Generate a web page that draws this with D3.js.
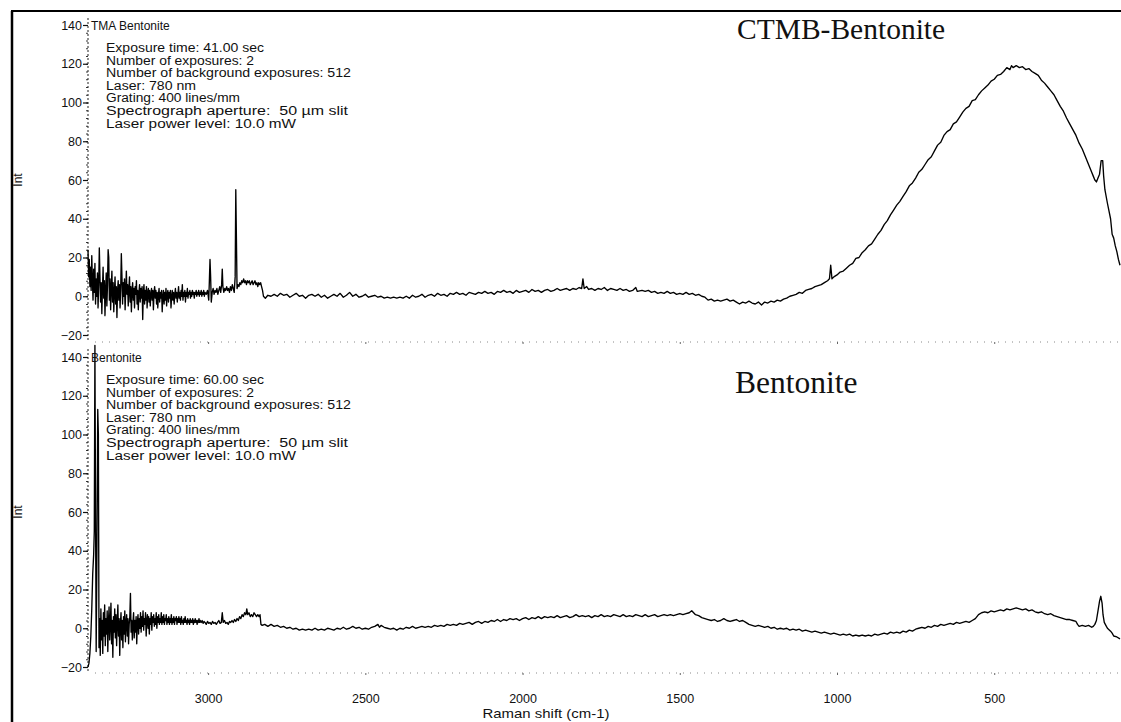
<!DOCTYPE html>
<html>
<head>
<meta charset="utf-8">
<script src="https://cdn.jsdelivr.net/npm/d3@7"></script>
<style>
  html, body { margin: 0; padding: 0; background: #fff; }
  svg { display: block; }
  text { fill: #111; }
</style>
</head>
<body>
<svg id="chart" width="1121" height="722"></svg>
<script>
// ---- data: Raman shift (cm-1) vs intensity ----
const yTicks = [-20, 0, 20, 40, 60, 80, 100, 120, 140];
const xTicks = [3000, 2500, 2000, 1500, 1000, 500];

// CTMB-Bentonite, noisy high-shift end
const ctmbNoise = [
[3382,24],[3380,10],[3378,19],[3376,5],[3374,15],[3372,3],[3370,21],[3368,8],[3366,-2],[3364,14],[3362,2],[3360,17],[3358,-4],[3356,9],[3354,0],[3352,12],[3350,-6],[3348,6],[3346,25],[3344,10],[3342,-3],[3340,7],[3338,-9],[3336,4],[3334,15],[3332,-1],[3330,8],[3328,-10],[3326,3],[3324,12],[3322,-5],[3320,6],[3318,24],[3316,20],[3314,-2],[3312,9],[3310,-7],[3308,4],[3306,13],[3304,-3],[3302,7],[3300,-8],[3298,2],[3296,10],[3294,-4],[3292,5],[3290,-11],[3288,3],[3286,8],[3284,-2],[3282,6],[3280,-6],[3278,4],[3276,22],[3274,10],[3272,-4],[3270,7],[3268,0],[3266,9],[3264,-7],[3262,3],[3260,13],[3258,1],[3256,6],[3254,-5],[3252,4],[3250,10],[3248,-3],[3246,5],[3244,-8],[3242,3],[3240,7],[3238,-2],[3236,4],[3234,-6],[3232,5],[3230,1],[3228,8],[3226,-4],[3224,3],[3222,-7],[3220,2],[3218,6],[3216,-3],[3214,4],[3212,-1],[3210,5],[3208,-12],[3206,2],[3204,6],[3202,-4],[3200,3],[3198,-2],[3196,5],[3194,-6],[3192,2],[3190,4],[3188,-3],[3186,3],[3184,-5],[3182,1],[3180,4],[3178,-2],[3176,3],[3174,-7],[3172,2],[3170,5],[3168,-1],[3166,3],[3164,-4],[3162,2],[3160,-6],[3158,1],[3156,4],[3154,-3],[3152,2],[3150,-1],[3148,3],[3146,-8],[3144,0],[3142,3],[3140,-4],[3138,2],[3136,-2],[3134,4],[3132,-5],[3130,1],[3128,3],[3126,-3],[3124,2],[3122,-1],[3120,3],[3118,-6],[3116,0],[3114,3],[3112,-2],[3110,2],[3108,-4],[3106,1],[3104,4],[3102,-1],[3100,2],[3098,-3],[3096,1],[3094,5],[3092,-1],[3090,2],[3088,-2],[3086,3],[3084,0],[3082,6],[3080,-2],[3078,2],[3076,0],[3074,3],[3072,-3],[3070,2],[3068,0],[3066,4],[3064,-1],[3062,2],[3060,1],[3058,3],[3056,-1],[3054,2],[3052,0],[3050,3],[3048,1],[3046,2],[3044,-1],[3042,2],[3040,1],[3038,3],[3036,0],[3034,2],[3032,1],[3030,3],[3028,0],[3026,2],[3024,1],[3022,3],[3020,0],[3018,2],[3016,1],[3014,3],[3012,0],[3010,2],[3006,1],[3002,3],[2998,-2],[2996,8],[2994,19],[2992,10],[2990,-3],[2987,2],[2984,4],[2981,1],[2978,3],[2975,2],[2972,4],[2969,1],[2966,3],[2963,5],[2960,2],[2957,6],[2955,14],[2953,5],[2950,2],[2947,4],[2944,3],[2941,5],[2938,3],[2935,4],[2932,2],[2929,5],[2926,3],[2923,6],[2920,4],[2917,2],[2914,10],[2912,55],[2910,30],[2908,4],[2905,6],[2902,5],[2899,7],[2896,6],[2893,8],[2890,7],[2887,9],[2884,7],[2881,8],[2878,6],[2875,8],[2872,7],[2869,8],[2866,6],[2863,7],[2860,8],[2857,6],[2854,7],[2851,8],[2848,6],[2845,7],[2842,5],[2839,7],[2836,6],[2833,7],[2830,5],[2827,3],[2824,0]
];

// CTMB-Bentonite, baseline and broad fluorescence band
const ctmbBand = [
[2818,-1],[2810,0.5],[2800,0],[2790,1],[2780,0],[2770,1.5],[2760,0.5],[2750,1],[2740,-0.5],[2730,0.5],[2720,1.5],[2710,0],[2700,0.5],[2690,-1],[2680,0.5],[2670,1],[2660,0],[2650,1],[2640,-0.5],[2630,0.5],[2620,-1],[2610,0],[2600,1],[2590,0],[2580,1.5],[2570,-0.5],[2560,0.5],[2550,2],[2540,0],[2530,1],[2520,-0.5],[2510,0],[2500,1],[2490,-0.5],[2480,0],[2470,0.5],[2460,-0.5],[2450,0],[2440,-1],[2430,-0.5],[2420,-1],[2410,-0.5],[2400,-1],[2390,-0.5],[2380,-1],[2370,0],[2360,-1],[2350,0.5],[2340,-0.5],[2330,0],[2320,1],[2310,-0.5],[2300,0.5],[2290,1],[2280,0],[2270,1.5],[2260,0.5],[2250,1],[2240,0],[2230,1.5],[2220,1],[2210,2],[2200,1],[2190,1.5],[2180,0.5],[2170,2],[2160,1.5],[2150,1],[2140,2],[2130,1.5],[2120,2.5],[2110,1.5],[2100,2],[2090,1],[2080,2.5],[2070,2],[2060,3],[2050,2],[2040,2.5],[2030,1.5],[2020,3],[2010,2],[2000,2.5],[1990,3],[1980,2],[1970,3.5],[1960,2.5],[1950,3],[1940,2],[1930,3],[1920,3.5],[1910,2.5],[1900,3],[1890,4],[1880,3],[1870,3.5],[1860,4],[1850,3],[1840,4],[1830,3.5],[1820,4.5],[1812,4],[1808,9],[1804,4],[1796,5],[1790,3.5],[1780,4],[1770,3],[1760,4],[1750,3.5],[1740,4.5],[1730,3],[1720,4],[1710,3.5],[1700,3],[1690,4],[1680,3],[1670,3.5],[1660,2.5],[1650,3],[1640,4.5],[1635,2.5],[1620,3],[1610,2.5],[1600,3],[1590,2],[1580,2.5],[1570,1.5],[1560,2],[1550,1.5],[1540,2.5],[1530,1.5],[1520,2],[1510,1],[1500,1.5],[1490,1],[1480,2],[1470,1],[1460,1.5],[1450,0.5],[1440,1],[1430,0],[1420,-0.5],[1410,-2],[1400,-1.5],[1390,-2.5],[1380,-2],[1370,-2.5],[1360,-2],[1350,-1.5],[1340,-2.5],[1330,-2],[1320,-3],[1310,-4],[1300,-3],[1290,-3.5],[1280,-2.5],[1270,-3.5],[1260,-4],[1250,-3],[1240,-4.5],[1230,-3],[1220,-3.5],[1210,-2.5],[1200,-3],[1190,-2],[1180,-2.5],[1170,-1.5],[1160,-1],[1150,0],[1140,0.5],[1130,1],[1120,2],[1110,1.5],[1100,3],[1090,3.5],[1080,4],[1070,5],[1060,5.5],[1050,6],[1040,7],[1030,8],[1024,9],[1020,16],[1016,9],[1010,10],[1000,11],[990,12.5],[980,13],[970,14.5],[960,16],[950,17],[940,19.5],[930,20],[920,22.5],[910,24],[900,26],[890,27],[880,29.5],[870,32],[860,34],[850,37],[840,39],[830,42],[820,44.5],[810,47],[800,49],[790,51.5],[780,54],[770,57],[760,58.5],[750,61],[740,64],[730,65.5],[720,68],[710,70.5],[700,72],[690,75],[680,78],[670,79.5],[660,83],[650,85],[640,86],[630,89],[620,90],[610,92.5],[600,95],[590,97],[580,98],[570,101],[560,101.5],[550,104],[540,106],[530,107.5],[520,109],[510,111],[500,112],[490,114],[480,114.5],[470,116],[460,118],[450,117],[445,119],[440,118],[430,119],[420,118],[410,118.5],[400,117],[390,117.5],[380,116],[370,115],[360,114],[350,111.5],[340,110],[330,108],[320,106],[310,104],[300,101],[290,98],[280,95.5],[270,92],[260,89],[250,86],[240,83],[230,79],[220,76],[210,72],[200,68],[190,64],[185,62],[180,60],[175,59],[170,61],[165,63],[160,70],[155,70],[152,62],[148,55],[140,48],[130,40],[125,32],[120,30],[115,26],[110,23],[105,19],[100,16]
];

// Bentonite, noisy high-shift end
const bentNoise = [
[3382,-20],[3379,-18],[3376,-13],[3373,-4],[3370,10],[3367,28],[3364,38],[3362,50],[3360,146],[3358,60],[3356,-12],[3354,30],[3351,113],[3349,100],[3347,-10],[3345,5],[3343,-14],[3341,10],[3339,-6],[3337,4],[3335,-13],[3333,8],[3331,-4],[3329,12],[3327,-9],[3325,5],[3323,-3],[3321,9],[3319,-12],[3317,3],[3315,11],[3313,-6],[3311,2],[3309,13],[3307,-8],[3305,4],[3303,-15],[3301,6],[3299,-2],[3297,10],[3295,-5],[3293,7],[3291,-9],[3289,3],[3287,12],[3285,-4],[3283,5],[3281,-14],[3279,2],[3277,8],[3275,-6],[3273,4],[3271,-10],[3269,6],[3267,-3],[3265,9],[3263,-7],[3261,3],[3259,7],[3257,-4],[3255,5],[3253,-8],[3251,2],[3249,6],[3247,18],[3245,-2],[3243,4],[3241,-6],[3239,3],[3237,8],[3235,-5],[3233,4],[3231,-2],[3229,6],[3227,-8],[3225,3],[3223,7],[3221,-3],[3219,5],[3217,0],[3215,8],[3213,-2],[3211,6],[3209,1],[3207,9],[3205,-1],[3203,5],[3201,2],[3199,8],[3197,-4],[3195,4],[3193,7],[3191,0],[3189,6],[3187,-3],[3185,5],[3183,2],[3181,8],[3179,-1],[3177,6],[3175,3],[3173,7],[3171,1],[3169,5],[3167,2],[3165,8],[3163,0],[3161,6],[3159,3],[3157,7],[3155,2],[3153,5],[3151,3],[3149,8],[3147,2],[3145,6],[3143,3],[3141,7],[3139,2],[3137,5],[3135,4],[3133,7],[3131,2],[3129,5],[3127,3],[3125,6],[3123,2],[3121,5],[3119,3],[3117,7],[3115,2],[3113,5],[3111,3],[3109,6],[3107,2],[3105,5],[3103,4],[3101,6],[3099,2],[3097,5],[3095,3],[3093,6],[3091,3],[3089,5],[3087,2],[3085,6],[3083,3],[3081,4],[3079,2],[3077,5],[3075,3],[3073,6],[3071,3],[3069,4],[3067,2],[3065,5],[3063,3],[3061,4],[3059,2],[3057,5],[3055,3],[3053,4],[3051,3],[3049,5],[3047,2],[3045,4],[3043,3],[3041,5],[3039,3],[3037,4],[3035,2],[3033,4],[3031,3],[3029,5],[3027,3],[3025,4],[3022,3],[3019,4],[3016,2.5],[3013,3.5],[3010,3],[3006,2],[3002,3.5],[2998,2.5],[2994,3],[2990,2],[2986,3.5],[2982,2.5],[2978,3],[2974,2],[2970,3],[2966,4],[2962,2.5],[2958,3],[2955,8],[2952,3],[2948,4],[2944,2.5],[2940,3],[2936,2],[2932,3.5],[2928,3],[2924,4],[2920,3],[2916,4.5],[2912,3.5],[2908,5],[2904,4],[2900,6],[2896,5],[2892,7],[2888,6],[2884,8],[2880,7],[2877,10],[2874,7],[2870,8],[2866,6],[2862,7],[2858,6],[2854,8],[2850,7],[2846,6],[2842,7],[2838,6],[2835,7],[2832,2],[2828,1.5]
];

// Bentonite, baseline and bands
const bentBand = [
[2820,2],[2810,1],[2800,2],[2790,1],[2780,1.5],[2770,0.5],[2760,1],[2750,0],[2740,0.5],[2730,-0.5],[2720,0],[2710,-1],[2700,-0.5],[2690,-1],[2680,-0.5],[2670,-1],[2660,0],[2650,-1],[2640,-0.5],[2630,-1],[2620,0],[2610,-0.5],[2600,-1],[2590,0],[2580,-0.5],[2570,0.5],[2560,-0.5],[2550,0],[2540,1],[2530,0],[2520,0.5],[2510,-0.5],[2500,0],[2490,-0.5],[2480,0.5],[2470,1],[2460,2],[2455,0.5],[2450,1.5],[2440,0.5],[2430,0],[2420,-0.5],[2410,0],[2400,-1],[2390,0],[2380,-0.5],[2370,0.5],[2360,0],[2350,1],[2340,0],[2330,0.5],[2320,1],[2310,0.5],[2300,1],[2290,0.5],[2280,1.5],[2270,1],[2260,1.5],[2250,1],[2240,2],[2230,1.5],[2220,2],[2210,1.5],[2200,2.5],[2190,2],[2180,2.5],[2170,3],[2160,2],[2150,3],[2140,3.5],[2130,2.5],[2120,3.5],[2110,3],[2100,4],[2090,3.5],[2080,4.5],[2070,3.5],[2060,4.5],[2050,4],[2040,5],[2030,4.5],[2020,5],[2010,4],[2000,5],[1990,5.5],[1980,4.5],[1970,5.5],[1960,5],[1950,6],[1940,5],[1930,6],[1920,5.5],[1910,6],[1900,5.5],[1890,6.5],[1880,5.5],[1870,6],[1860,6.5],[1850,5.5],[1840,6],[1830,7],[1820,6],[1810,6.5],[1800,6],[1790,6.5],[1780,5.5],[1770,6.5],[1760,6],[1750,7],[1740,6],[1730,6.5],[1720,6],[1710,7],[1700,6.5],[1690,6],[1680,7],[1670,6],[1660,6.5],[1650,6],[1640,7],[1630,6.5],[1620,6],[1610,7],[1600,6],[1590,6.5],[1580,7],[1570,6],[1560,6.5],[1550,7],[1540,6.5],[1530,7],[1520,6.5],[1510,7],[1500,7.5],[1490,7],[1480,7.5],[1470,8],[1462,9],[1456,8],[1450,7],[1440,6.5],[1430,5.5],[1420,5],[1410,4.5],[1400,4],[1390,4.5],[1380,3.5],[1370,4],[1360,5],[1350,4],[1340,3.5],[1330,4],[1320,4.5],[1310,3.5],[1300,4],[1290,3],[1280,2],[1270,1.5],[1260,1],[1250,1.5],[1240,1],[1230,0.5],[1220,1],[1210,0],[1200,0.5],[1190,-0.5],[1180,0],[1170,-0.5],[1160,0],[1150,-1],[1140,-0.5],[1130,-1],[1120,-0.5],[1110,-1.5],[1100,-1],[1090,-1.5],[1080,-2],[1070,-1.5],[1060,-2],[1050,-2.5],[1040,-2],[1030,-2.5],[1020,-3],[1010,-2.5],[1000,-3],[990,-3.5],[980,-3],[970,-3.5],[960,-3],[950,-4],[940,-3.5],[930,-4],[920,-3.5],[910,-4],[900,-3.5],[890,-4],[880,-3],[870,-3.5],[860,-3],[850,-2.5],[840,-3],[830,-2],[820,-2.5],[810,-2],[800,-2.5],[790,-1.5],[780,-2],[770,-1],[760,-1.5],[750,-0.5],[740,0],[730,0.5],[720,0],[710,1],[700,0.5],[690,1.5],[680,1],[670,2],[660,1.5],[650,2],[640,2.5],[630,2],[620,3],[610,2.5],[600,3],[590,3.5],[580,3],[570,4],[560,5],[550,7],[540,8],[530,8.5],[520,8],[510,9],[500,8.5],[490,9],[480,9.5],[470,9],[460,10],[450,9.5],[440,10],[430,10.5],[420,10],[410,9.5],[400,10],[390,9],[380,9.5],[370,8.5],[360,8],[350,8.5],[340,7.5],[330,7],[320,7.5],[310,6.5],[300,6],[290,5.5],[280,5],[270,4.5],[260,4.5],[250,4],[240,3.5],[235,2],[230,1],[220,1.5],[210,1],[200,1.5],[190,0.5],[185,1],[180,2],[175,4],[170,9],[165,14],[161,16.5],[157,13],[154,7],[150,3],[145,1.5],[140,0],[130,-1.5],[125,-2.5],[120,-4],[110,-4.5],[100,-5.5]
];

const ctmbInfo = [
  "Exposure time: 41.00 sec",
  "Number of exposures: 2",
  "Number of background exposures: 512",
  "Laser: 780 nm",
  "Grating: 400 lines/mm",
  "Spectrograph aperture:  50 \u00b5m slit",
  "Laser power level: 10.0 mW"
];
const bentInfo = [
  "Exposure time: 60.00 sec",
  "Number of exposures: 2",
  "Number of background exposures: 512",
  "Laser: 780 nm",
  "Grating: 400 lines/mm",
  "Spectrograph aperture:  50 \u00b5m slit",
  "Laser power level: 10.0 mW"
];

// ---- layout ----
const svg = d3.select("#chart");
const SANS = "'Liberation Sans', Arial, sans-serif";
const SERIF = "'Liberation Serif', 'Times New Roman', serif";

// rendered line lengths of the parameter block (px), one per line
const infoLineWidths = [158, 148, 245, 90, 134, 242, 190];

const x = d3.scaleLinear().domain([3382, 100]).range([88, 1120]);

const panels = [
  { data: ctmbNoise.concat(ctmbBand), top: 25, bottom: 335, axisY: 342, axisTop: 18,
    title: "TMA Bentonite", info: ctmbInfo, label: "CTMB-Bentonite", labelX: 737, labelY: 39,
    labelSize: 29.5, xLabels: false },
  { data: bentNoise.concat(bentBand), top: 357, bottom: 667, axisY: 673, axisTop: 349,
    title: "Bentonite", info: bentInfo, label: "Bentonite", labelX: 735, labelY: 393,
    labelSize: 31.5, xLabels: true }
];

// outer frame (left and top edges)
svg.append("line").attr("x1", 12).attr("y1", 11).attr("x2", 12).attr("y2", 722)
  .attr("stroke", "#000").attr("stroke-width", 2.5);
svg.append("line").attr("x1", 11).attr("y1", 11).attr("x2", 1121).attr("y2", 11)
  .attr("stroke", "#000").attr("stroke-width", 2);

panels.forEach(p => {
  const y = d3.scaleLinear().domain([-20, 140]).range([p.bottom, p.top]);
  const g = svg.append("g");

  // x axis: faint dotted baseline
  const xAxis = d3.axisBottom(x).tickValues(xTicks).tickSize(2).tickPadding(19)
    .tickFormat(p.xLabels ? d3.format("d") : () => "");
  const gx = g.append("g").attr("transform", `translate(0,${p.axisY})`).call(xAxis);
  gx.select(".domain").attr("stroke", "#888").attr("stroke-width", 1)
    .attr("stroke-dasharray", "1,6").attr("d", `M95,0H1120`);
  gx.selectAll(".tick line").attr("stroke", "#666");
  gx.selectAll(".tick text").attr("font-family", SANS).attr("font-size", 12.5).attr("fill", "#111");

  // y axis: minor ticks
  const minor = d3.range(-20, 141, 4);
  const gm = g.append("g").attr("transform", "translate(88,0)")
    .call(d3.axisLeft(y).tickValues(minor).tickSize(2).tickFormat(() => ""));
  gm.select(".domain").remove();
  gm.selectAll(".tick line").attr("stroke", "#333");

  // y axis: major ticks and labels
  const gy = g.append("g").attr("transform", "translate(88,0)")
    .call(d3.axisLeft(y).tickValues(yTicks).tickSize(5).tickPadding(1));
  gy.select(".domain").attr("stroke", "#222").attr("stroke-dasharray", "2,2")
    .attr("d", `M0,${p.axisTop}V${p.axisY}`);
  gy.selectAll(".tick line").attr("stroke", "#111").attr("stroke-width", 1.2);
  gy.selectAll(".tick text").attr("font-family", SANS).attr("font-size", 12.5).attr("fill", "#111");

  // y axis title
  g.append("text")
    .attr("transform", `translate(22,${(p.top + p.bottom) / 2}) rotate(-90)`)
    .attr("text-anchor", "middle").attr("font-family", SANS).attr("font-size", 12)
    .text("Int");

  // spectrum
  const line = d3.line().x(d => x(d[0])).y(d => y(d[1]));
  g.append("path").datum(p.data).attr("d", line)
    .attr("fill", "none").attr("stroke", "#000").attr("stroke-width", 1.35)
    .attr("stroke-linejoin", "round");

  // panel title and acquisition parameters
  g.append("text").attr("x", 91).attr("y", p.top + 5)
    .attr("font-family", SANS).attr("font-size", 12).text(p.title);
  g.selectAll("text.info").data(p.info).join("text").attr("class", "info")
    .attr("x", 106).attr("y", (d, i) => p.top + 27 + i * 12.6)
    .attr("textLength", (d, i) => infoLineWidths[i])
    .attr("lengthAdjust", "spacingAndGlyphs")
    .style("white-space", "pre")
    .attr("font-family", SANS).attr("font-size", 12.3).text(d => d);

  // sample label
  g.append("text").attr("x", p.labelX).attr("y", p.labelY)
    .attr("font-family", SERIF).attr("font-size", p.labelSize).text(p.label);
});

// x axis title
svg.append("text").attr("transform", "translate(546,718) scale(1.15,1)")
  .attr("text-anchor", "middle")
  .attr("font-family", SANS).attr("font-size", 13).text("Raman shift (cm-1)");
</script>
</body>
</html>
